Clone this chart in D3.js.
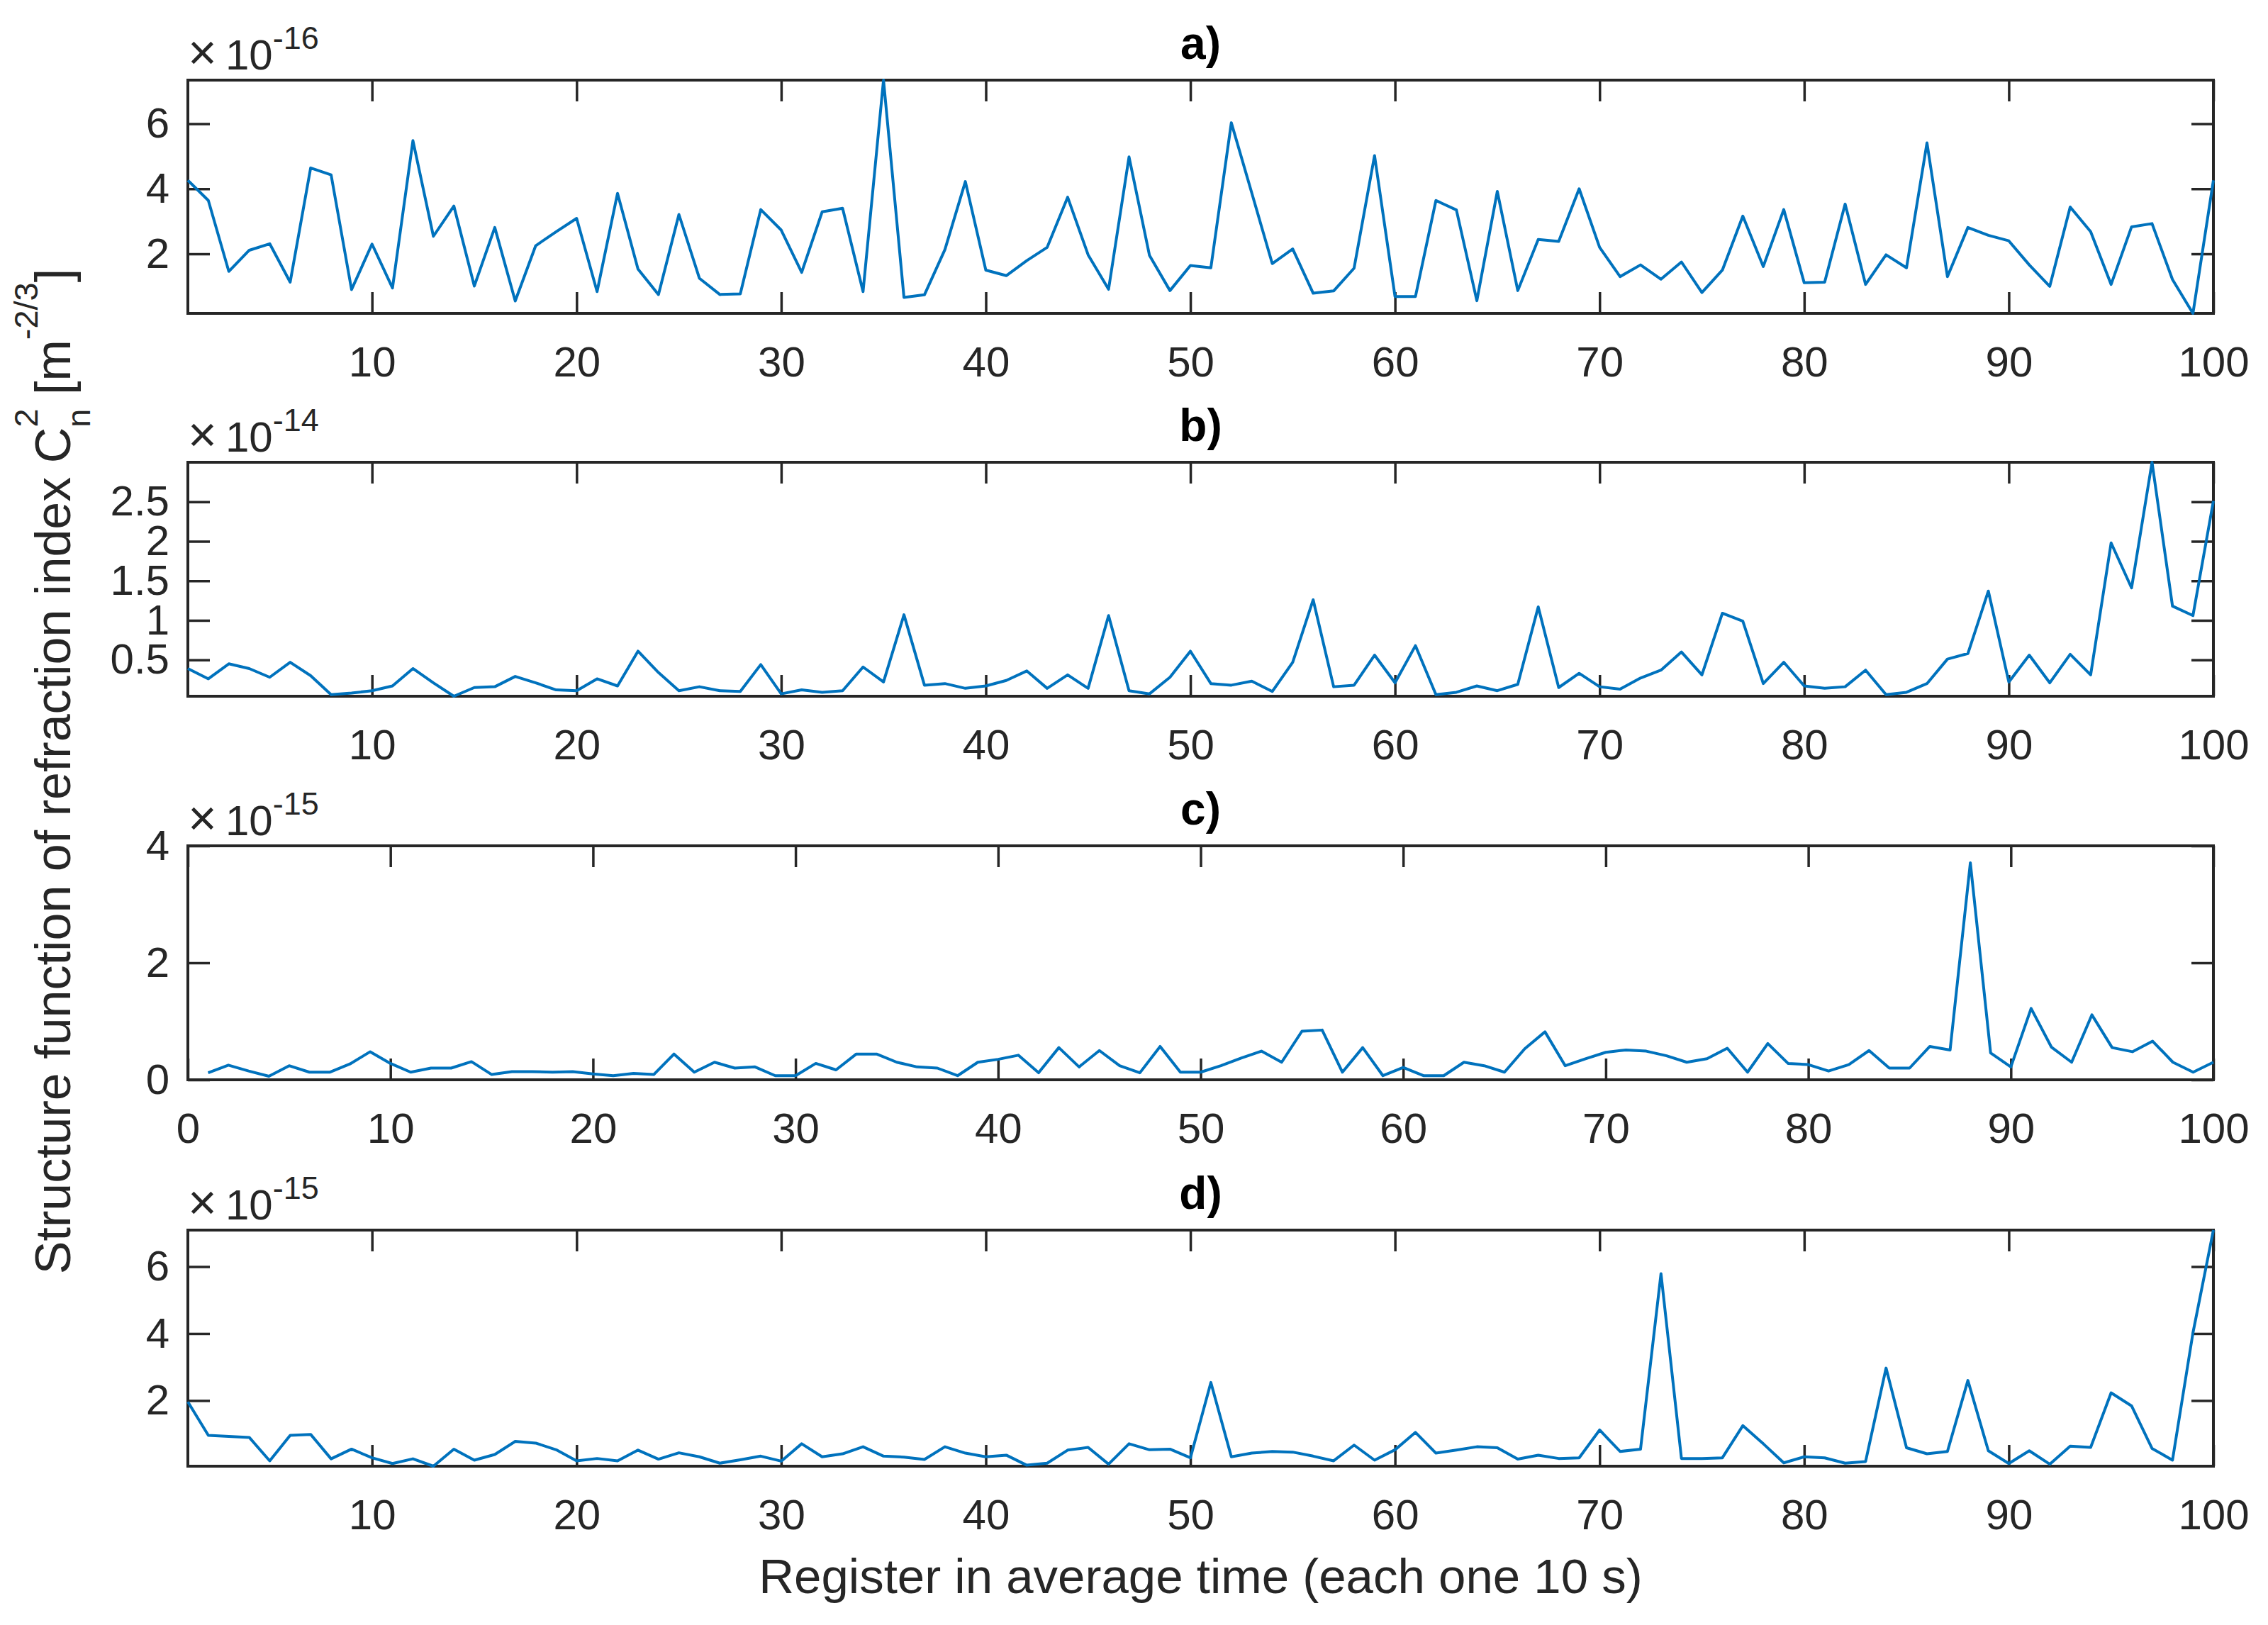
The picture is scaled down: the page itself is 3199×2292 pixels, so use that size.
<!DOCTYPE html>
<html><head><meta charset="utf-8">
<script src="https://cdn.jsdelivr.net/npm/d3@7"></script>
<style>body{margin:0;background:#fff} svg{display:block}</style>
</head><body>
<svg id="chart" width="3199" height="2292"></svg>
<script>
// ---------- DATA ----------
const registers = d3.range(1, 101);
const seriesA = [4.26,3.64,1.46,2.11,2.31,1.13,4.64,4.43,0.90,2.30,
 0.95,5.48,2.54,3.47,1.01,2.81,0.55,2.25,2.68,3.09,
 0.84,3.86,1.53,0.75,3.21,1.25,0.75,0.77,3.36,2.73,
 1.43,3.29,3.40,0.84,7.34,0.66,0.74,2.13,4.22,1.50,
 1.33,1.79,2.20,3.74,1.97,0.91,4.98,1.95,0.87,1.64,
 1.57,6.03,3.87,1.70,2.15,0.79,0.86,1.56,5.02,0.69,
 0.69,3.64,3.35,0.56,3.92,0.87,2.44,2.38,4.00,2.20,
 1.30,1.66,1.22,1.75,0.81,1.50,3.16,1.61,3.36,1.11,
 1.13,3.53,1.06,1.97,1.57,5.41,1.30,2.81,2.57,2.40,
 1.66,1.00,3.44,2.68,1.06,2.83,2.93,1.21,0.17,4.26];
const seriesB = [0.39,0.26,0.45,0.39,0.28,0.47,0.30,0.06,0.08,0.11,
 0.17,0.39,0.21,0.04,0.15,0.16,0.29,0.21,0.12,0.11,
 0.26,0.17,0.61,0.34,0.11,0.16,0.11,0.10,0.44,0.07,
 0.12,0.09,0.11,0.41,0.22,1.07,0.18,0.20,0.14,0.17,
 0.24,0.36,0.14,0.31,0.14,1.06,0.11,0.07,0.28,0.61,
 0.20,0.18,0.23,0.10,0.47,1.26,0.16,0.18,0.56,0.21,
 0.68,0.06,0.09,0.17,0.11,0.19,1.17,0.15,0.33,0.16,
 0.13,0.27,0.37,0.60,0.31,1.09,0.99,0.20,0.47,0.17,
 0.14,0.16,0.37,0.06,0.09,0.20,0.51,0.58,1.37,0.22,
 0.56,0.21,0.57,0.31,1.98,1.41,3.00,1.18,1.06,2.51];
const seriesC = [0.12,0.25,0.15,0.06,0.24,0.13,0.13,0.27,0.48,0.28,
 0.13,0.20,0.20,0.31,0.09,0.14,0.14,0.13,0.14,0.10,
 0.07,0.11,0.09,0.44,0.13,0.30,0.20,0.22,0.07,0.07,
 0.28,0.17,0.44,0.44,0.30,0.22,0.20,0.07,0.30,0.35,
 0.42,0.12,0.55,0.22,0.50,0.24,0.12,0.57,0.13,0.13,
 0.24,0.37,0.49,0.30,0.83,0.85,0.13,0.55,0.07,0.21,
 0.07,0.07,0.30,0.24,0.13,0.53,0.82,0.24,0.36,0.47,
 0.51,0.49,0.41,0.30,0.36,0.54,0.13,0.62,0.28,0.26,
 0.15,0.26,0.50,0.20,0.20,0.57,0.51,3.71,0.46,0.22,
 1.22,0.56,0.30,1.11,0.55,0.48,0.66,0.30,0.13,0.30];
const seriesD = [1.96,0.96,0.93,0.90,0.20,0.96,0.99,0.26,0.55,0.29,
 0.12,0.26,0.04,0.55,0.22,0.39,0.78,0.73,0.53,0.20,
 0.27,0.20,0.52,0.25,0.44,0.32,0.13,0.23,0.34,0.19,
 0.71,0.32,0.41,0.62,0.34,0.31,0.24,0.62,0.43,0.32,
 0.37,0.07,0.13,0.52,0.60,0.10,0.71,0.53,0.55,0.29,
 2.54,0.32,0.43,0.48,0.46,0.34,0.20,0.67,0.22,0.53,
 1.05,0.43,0.52,0.62,0.59,0.25,0.37,0.27,0.29,1.12,
 0.48,0.55,5.79,0.27,0.27,0.29,1.25,0.71,0.14,0.32,
 0.29,0.13,0.18,2.97,0.59,0.41,0.48,2.60,0.50,0.12,
 0.50,0.10,0.64,0.60,2.23,1.84,0.57,0.22,4.02,7.09];

const panelLabels = ["a)", "b)", "c)", "d)"];
const exponentLabels = ["-16", "-14", "-15", "-15"];
const xTicksStd = [10, 20, 30, 40, 50, 60, 70, 80, 90, 100];
const xTicksC = [0, 10, 20, 30, 40, 50, 60, 70, 80, 90, 100];
const yTicksA = [2, 4, 6];
const yTicksB = [0.5, 1, 1.5, 2, 2.5];
const yTicksC = [0, 2, 4];
const yTicksD = [2, 4, 6];
const xDomainStd = [1, 100];
const xDomainC = [0, 100];
const yDomainC = [0, 4];
const xLabel = "Register in average time (each one 10 s)";

// ---------- LAYOUT ----------
const svg = d3.select("#chart");
const FONT = "'Liberation Sans', Arial, Helvetica, sans-serif";
const AX = "#262626";
const L = 265, R = 3122;
const tops = [113, 652, 1193, 1735];
const bottoms = [442, 982, 1523, 2068];

const panels = [
  {values: seriesA, xDomain: xDomainStd, yDomain: d3.extent(seriesA), xTicks: xTicksStd, yTicks: yTicksA},
  {values: seriesB, xDomain: xDomainStd, yDomain: d3.extent(seriesB), xTicks: xTicksStd, yTicks: yTicksB},
  {values: seriesC, xDomain: xDomainC, yDomain: yDomainC, xTicks: xTicksC, yTicks: yTicksC},
  {values: seriesD, xDomain: xDomainStd, yDomain: d3.extent(seriesD), xTicks: xTicksStd, yTicks: yTicksD}
];

panels.forEach((p, i) => {
  const top = tops[i], bot = bottoms[i];
  const x = d3.scaleLinear().domain(p.xDomain).range([L, R]);
  const y = d3.scaleLinear().domain(p.yDomain).range([bot, top]);
  const g = svg.append("g");

  const styleAxis = sel => {
    sel.select(".domain").remove();
    sel.selectAll(".tick line").attr("stroke", AX).attr("stroke-width", 3.5);
    sel.selectAll(".tick text").attr("fill", AX).attr("font-family", FONT).attr("font-size", 60);
  };

  g.append("g").attr("transform", `translate(0,${bot})`)
    .call(d3.axisBottom(x).tickValues(p.xTicks).tickSize(-30).tickSizeOuter(0).tickPadding(46).tickFormat(d => String(d)))
    .call(styleAxis);
  g.append("g").attr("transform", `translate(0,${top})`)
    .call(d3.axisTop(x).tickValues(p.xTicks).tickSize(-30).tickSizeOuter(0).tickFormat(""))
    .call(styleAxis);
  g.append("g").attr("transform", `translate(${L},0)`)
    .call(d3.axisLeft(y).tickValues(p.yTicks).tickSize(-31).tickSizeOuter(0).tickPadding(26).tickFormat(d => String(d)))
    .call(styleAxis);
  g.append("g").attr("transform", `translate(${R},0)`)
    .call(d3.axisRight(y).tickValues(p.yTicks).tickSize(-31).tickSizeOuter(0).tickFormat(""))
    .call(styleAxis);

  g.append("rect").attr("x", L).attr("y", top).attr("width", R - L).attr("height", bot - top)
    .attr("fill", "none").attr("stroke", AX).attr("stroke-width", 4);

  g.append("path").datum(p.values)
    .attr("fill", "none").attr("stroke", "#0072BD").attr("stroke-width", 4)
    .attr("stroke-linejoin", "round")
    .attr("d", d3.line().x((d, j) => x(registers[j])).y(d => y(d)));

  // panel title
  g.append("text").attr("x", (L + R) / 2).attr("y", top - 30)
    .attr("text-anchor", "middle").attr("font-family", FONT).attr("font-weight", "bold")
    .attr("font-size", 64).attr("fill", "#000").text(panelLabels[i]);

  // exponent label
  const ex = g.append("text").attr("x", L).attr("y", top - 15)
    .attr("font-family", FONT).attr("font-size", 60).attr("fill", AX);
  ex.append("tspan").attr("font-size", 70).text("\u00d7");
  ex.append("tspan").attr("dx", 12).text("10");
  ex.append("tspan").attr("font-size", 45).attr("dy", -29).text(exponentLabels[i]);
});

// x label
svg.append("text").attr("x", (L + R) / 2).attr("y", 2247)
  .attr("text-anchor", "middle").attr("font-family", FONT).attr("font-size", 69)
  .attr("fill", AX).text(xLabel);

// y label with sub/superscripts
const yl = svg.append("text").attr("transform", "translate(99,1088) rotate(-90)")
  .attr("text-anchor", "middle").attr("font-family", FONT).attr("font-size", 70).attr("fill", AX);
yl.append("tspan").text("Structure function of refraction index C");
yl.append("tspan").attr("font-size", 47).attr("dy", 28).text("n");
yl.append("tspan").attr("font-size", 47).attr("dx", -26).attr("dy", -74).text("2");
yl.append("tspan").attr("dy", 46).text(" [m");
yl.append("tspan").attr("font-size", 47).attr("dy", -46).text("-2/3");
yl.append("tspan").attr("dy", 46).text("]");
</script>
</body></html>
